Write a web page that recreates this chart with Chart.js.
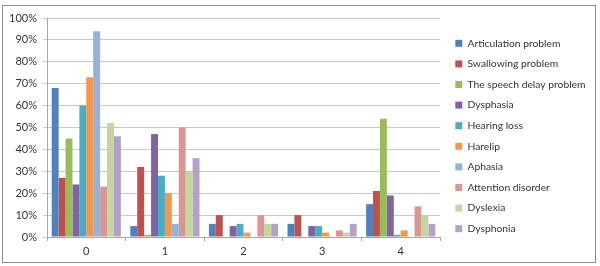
<!DOCTYPE html>
<html>
<head>
<meta charset="utf-8">
<script src="https://cdn.jsdelivr.net/npm/chart.js@4/dist/chart.umd.min.js"></script>
<style>
  html, body { margin: 0; padding: 0; background: #fff; }
  #wrap { position: relative; width: 600px; height: 266px; }
  #marco { position: absolute; left: 2px; top: 5px; width: 594px; height: 258px; border: 1px solid #8c8c8c; box-sizing: border-box; }
  canvas { position: absolute; left: 0; top: 0; }
</style>
</head>
<body>
<div id="wrap">
  <div id="marco"></div>
  <canvas id="grafico" width="600" height="266"></canvas>
</div>
<script>
// Categorías del eje X
const categorias = ["0", "1", "2", "3", "4"];

// Series (porcentajes)
const articulacion = [68, 5, 6, 6, 15];
const deglucion = [27, 32, 10, 10, 21];
const retrasoHabla = [45, 1, 0, 0, 54];
const disfasia = [24, 47, 5, 5, 19];
const perdidaAuditiva = [60, 28, 6, 5, 1];
const labioLeporino = [73, 20, 2, 2, 3];
const afasia = [94, 6, 0, 0, 0];
const atencion = [23, 50, 10, 3, 14];
const dislexia = [52, 30, 6, 2, 10];
const disfonia = [46, 36, 6, 6, 6];

const nombres = ["Articulation problem", "Swallowing problem", "The speech delay problem", "Dysphasia",
  "Hearing loss", "Harelip", "Aphasia", "Attention disorder", "Dyslexia", "Dysphonia"];
const series = [articulacion, deglucion, retrasoHabla, disfasia, perdidaAuditiva,
  labioLeporino, afasia, atencion, dislexia, disfonia];
const colores = ["#4F81BD", "#C0504D", "#9BBB59", "#8064A2", "#4BACC6",
  "#F79646", "#95B3D7", "#D99694", "#C3D69B", "#B3A2C7"];

const fuente = { family: "Lato, 'Liberation Sans', sans-serif", size: 11 };
const fuenteLeyenda = { family: "Lato, 'Liberation Sans', sans-serif", size: 10.3 };

// Mueve un poco la leyenda para que quede como en el original
const moverLeyenda = {
  id: "moverLeyenda",
  afterLayout(chart) {
    const l = chart.legend;
    l.left += 5; l.right += 5;
    l.top -= 6; l.bottom -= 6;
  }
};

const ctx = document.getElementById("grafico").getContext("2d");
new Chart(ctx, {
  type: "bar",
  data: {
    labels: categorias,
    datasets: series.map((datos, i) => ({
      label: nombres[i],
      data: datos,
      backgroundColor: colores[i],
      borderWidth: 0,
      categoryPercentage: 0.88,
      barPercentage: 1
    }))
  },
  options: {
    responsive: false,
    animation: false,
    layout: { padding: { top: 18, right: 15, left: 0, bottom: 0 } },
    scales: {
      x: {
        grid: { display: true, drawOnChartArea: false, color: "#a6a6a6", tickLength: 4, offset: true },
        border: { color: "#a6a6a6" },
        ticks: { color: "#333", font: fuente, padding: 4 },
        afterFit: s => { s.height = 29; }
      },
      y: {
        min: 0,
        max: 100,
        ticks: { stepSize: 10, color: "#333", font: fuente, padding: 6, callback: v => v + "%" },
        grid: { color: "#c8c8c8", tickLength: 4 },
        border: { color: "#a6a6a6" },
        afterFit: s => { s.width = 47; }
      }
    },
    plugins: {
      tooltip: { enabled: false },
      legend: {
        position: "right",
        align: "center",
        maxWidth: 145,
        labels: { boxWidth: 7, boxHeight: 7, padding: 10.3, color: "#333", font: fuenteLeyenda }
      }
    }
  },
  plugins: [moverLeyenda]
});
</script>
</body>
</html>
